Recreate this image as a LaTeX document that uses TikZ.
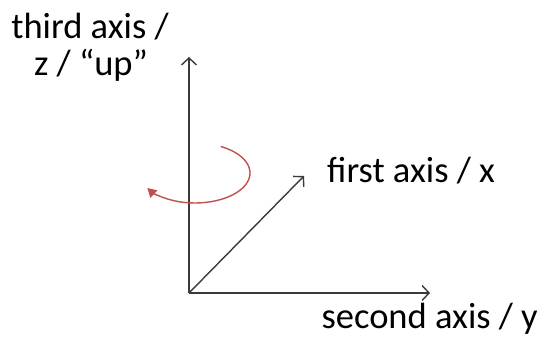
\documentclass[tikz,border=0pt]{standalone}
\usepackage{fontspec}
\setmainfont{Carlito}
\usetikzlibrary{positioning,arrows.meta,calc}
\definecolor{AxisGray}{HTML}{3A3A3A}
\definecolor{TurnRed}{HTML}{C0504D}

\begin{document}
\begin{tikzpicture}[x=1pt, y=1pt,
        axis/.style={draw=AxisGray, line width=1.4pt,
                     -{Straight Barb[length=7pt, width=15pt, line width=1.4pt]}},
        turn/.style={draw=TurnRed, line width=1.4pt,
                     -{Triangle[length=9pt, width=10pt]}},
        lbl/.style={font=\fontsize{36.5}{44}\selectfont, inner sep=0pt, align=center},
      ]
      \useasboundingbox (0,0) rectangle (541,339);
      \coordinate (o) at (189,46);
      \coordinate (zend) at (189,282);
      \coordinate (yend) at (430,46);
      \coordinate (xend) at (304,163);
      \draw[axis] (o) -- (zend);
      \draw[axis] (o) -- (yend);
      \draw[axis] (o) -- (xend);
      % rotation about the up axis
      \draw[turn] (195,166) ++(62:55 and 30) arc[start angle=62, end angle=-150,
                  x radius=55, y radius=30];
      \node[lbl, anchor=base west] (xlbl) at (327,156) {first axis / x};
      \node[lbl, anchor=base east] (ylbl) at (538,10) {second axis / y};
      \node[lbl, anchor=base] (zlbl) at (90,300) {third axis /};
      \node[lbl, anchor=base] (zlbl2) at (91,263) {z / “up”};
    \end{tikzpicture}
\end{document}
